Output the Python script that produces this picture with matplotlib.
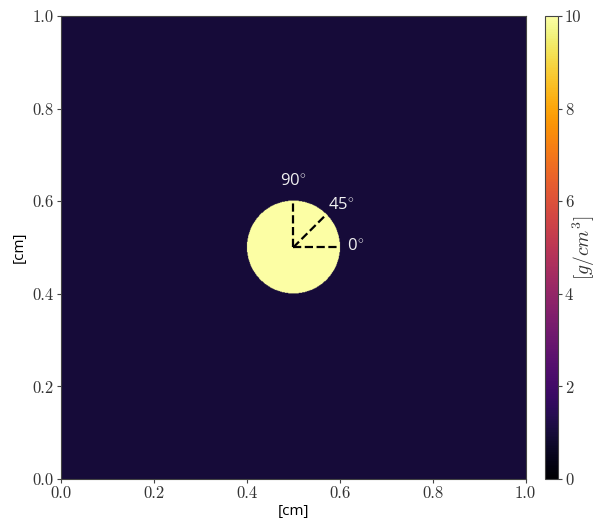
import numpy as np
import matplotlib
matplotlib.use("Agg")
import matplotlib.pyplot as plt

# density phantom: uniform background with a dense disc
rho_background = 1.0
rho_disc = 10.0
disc_center = (0.5, 0.5)
disc_radius = 0.1
n_pix = 800

# dashed reference directions and their labels
angles_deg = [0, 45, 90]
angle_labels = ["0", "45", "90"]
label_pos = [(0.634, 0.503), (0.604, 0.592), (0.50, 0.643)]

colorbar_ticks = [0, 2, 4, 6, 8, 10]
axis_ticks = [0.0, 0.2, 0.4, 0.6, 0.8, 1.0]

plt.rcParams["mathtext.fontset"] = "cm"
plt.rcParams["font.family"] = ["cmr10", "DejaVu Sans"]
plt.rcParams["axes.formatter.use_mathtext"] = True

c = (np.arange(n_pix) + 0.5) / n_pix
X, Y = np.meshgrid(c, c)
rho = np.full((n_pix, n_pix), rho_background)
rho[(X - disc_center[0])**2 + (Y - disc_center[1])**2 <= disc_radius**2] = rho_disc

fig = plt.figure(figsize=(6.02, 5.22), dpi=100)
ax = fig.add_axes([0.101, 0.0824, 0.772, 0.887])
cax = fig.add_axes([0.905, 0.0824, 0.022, 0.887])

im = ax.imshow(rho, origin="lower", extent=[0, 1, 0, 1], cmap="inferno",
               vmin=0, vmax=10, interpolation="antialiased", aspect="auto")

for a in angles_deg:
    t = np.deg2rad(a)
    ax.plot([disc_center[0], disc_center[0] + disc_radius * np.cos(t)],
            [disc_center[1], disc_center[1] + disc_radius * np.sin(t)],
            color="black", linestyle="--", linewidth=1.6)

for lab, (lx, ly) in zip(angle_labels, label_pos):
    ax.text(lx, ly, lab + r"$^{\circ}$", color="#f0f0f0", fontsize=12,
            ha="center", va="center", family=["Open Sans", "DejaVu Sans"])

ax.set_xlim(0, 1)
ax.set_ylim(0, 1)
ax.set_xticks(axis_ticks)
ax.set_yticks(axis_ticks)
ax.set_xticklabels([f"{v:.1f}" for v in axis_ticks])
ax.set_yticklabels([f"{v:.1f}" for v in axis_ticks])
ax.tick_params(labelsize=12, colors="#444444", labelcolor="#333333",
               length=3, pad=2)
for s in ax.spines.values():
    s.set_color("#444444")
ax.set_xlabel("[cm]", fontsize=11, family=["Open Sans", "DejaVu Sans"],
              labelpad=2)
ax.set_ylabel("[cm]", fontsize=11, family=["Open Sans", "DejaVu Sans"],
              labelpad=4)

cb = fig.colorbar(im, cax=cax, ticks=colorbar_ticks)
cb.ax.set_yticklabels([str(v) for v in colorbar_ticks])
cb.ax.tick_params(labelsize=12, colors="#444444", labelcolor="#333333",
                  length=3, pad=2)
cb.outline.set_edgecolor("#444444")
cb.set_label(r"$[g/cm^3]$", fontsize=14, color="#333333", labelpad=-8)

fig.savefig("out.png", dpi=100)
